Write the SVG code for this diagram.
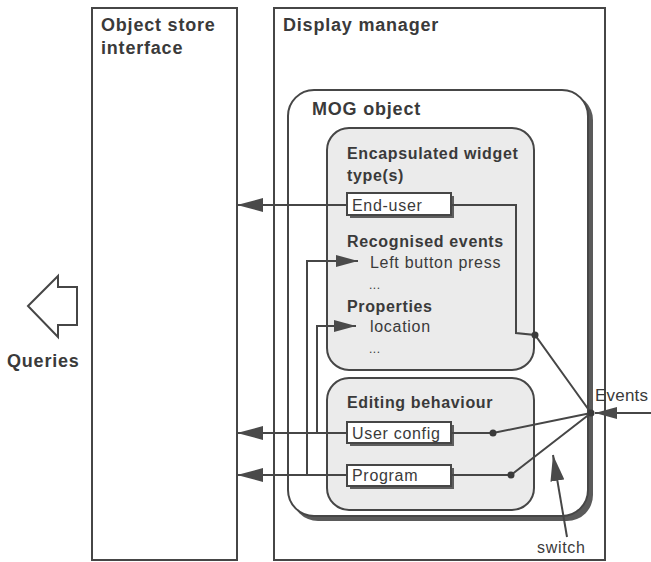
<svg xmlns="http://www.w3.org/2000/svg" width="651" height="562" viewBox="0 0 651 562">
  <style>
    .frame { fill: #ffffff; stroke: #464646; stroke-width: 2; }
    .panel { fill: #ebebeb; stroke: #464646; stroke-width: 2; }
    .tag { fill: #ffffff; stroke: #464646; stroke-width: 2; }
    .tagshadow { fill: #5e5e5e; }
    .wire { fill: none; stroke: #464646; stroke-width: 2; }
    .dot { fill: #3a3a3a; }
    .head { fill: #4a4a4a; }
    .h1 { font-family: "Liberation Sans", Arial, sans-serif; font-weight: bold; font-size: 18px; letter-spacing: 0.8px; fill: #3a3a3a; }
    .h2 { font-family: "Liberation Sans", Arial, sans-serif; font-weight: bold; font-size: 16px; letter-spacing: 0.65px; fill: #3a3a3a; }
    .t { font-family: "Liberation Sans", Arial, sans-serif; font-size: 16px; letter-spacing: 0.7px; fill: #3a3a3a; }
    .ellipsis { font-family: "Liberation Sans", Arial, sans-serif; font-size: 12px; letter-spacing: 0.5px; fill: #3a3a3a; }
    .big { font-size: 17px; letter-spacing: 0.2px; }
  </style>
  <defs>
    <marker id="arrow" viewBox="0 0 26 14" refX="26" refY="7" markerWidth="26" markerHeight="14" markerUnits="userSpaceOnUse" orient="auto">
      <path d="M0,0 L26,7 L0,14 Z" class="head"/>
    </marker>
    <marker id="arrowSmall" viewBox="0 0 22 12" refX="22" refY="6" markerWidth="22" markerHeight="12" markerUnits="userSpaceOnUse" orient="auto">
      <path d="M0,0 L22,6 L0,12 Z" class="head"/>
    </marker>
  </defs>

  <rect width="651" height="562" fill="#ffffff"/>

  <!-- Object store interface -->
  <g id="object-store">
    <rect class="frame" x="92" y="8" width="145" height="552"/>
    <text class="h1" x="101" y="31">Object store</text>
    <text class="h1" x="101" y="54">interface</text>
  </g>

  <!-- Display manager -->
  <g id="display-manager">
    <rect class="frame" x="274" y="8" width="331" height="552"/>
    <text class="h1" x="283" y="31">Display manager</text>
  </g>

  <!-- MOG object with drop shadow -->
  <g id="mog-object">
    <rect x="292" y="94" width="301" height="427" rx="26" fill="#5a5a5a"/>
    <rect class="frame" x="288" y="90" width="300" height="426" rx="26"/>
    <text class="h1" x="312" y="115">MOG object</text>
  </g>

  <!-- Encapsulated widget types -->
  <g id="widget-types">
    <rect class="panel" x="327" y="128" width="207" height="242" rx="22"/>
    <text class="h2" x="347" y="159">Encapsulated widget</text>
    <text class="h2" x="347" y="181">type(s)</text>
    <text class="h2" x="347" y="247">Recognised events</text>
    <text class="t" x="370" y="268">Left button press</text>
    <text class="ellipsis" x="369" y="289">...</text>
    <text class="h2" x="347" y="312">Properties</text>
    <text class="t" x="370" y="332">location</text>
    <text class="ellipsis" x="369" y="353">...</text>
  </g>

  <g id="end-user">
    <rect class="tagshadow" x="350" y="196" width="104" height="22"/>
    <rect class="tag" x="347" y="193" width="104" height="22"/>
    <text class="t" x="352" y="211">End-user</text>
  </g>

  <!-- Editing behaviour -->
  <g id="editing-behaviour">
    <rect class="panel" x="327" y="378" width="207" height="132" rx="22"/>
    <text class="h2" x="347" y="408">Editing behaviour</text>
  </g>

  <g id="user-config">
    <rect class="tagshadow" x="350" y="425" width="104" height="21"/>
    <rect class="tag" x="347" y="422" width="104" height="21"/>
    <text class="t" x="352" y="439">User config</text>
  </g>

  <g id="program">
    <rect class="tagshadow" x="350" y="468" width="104" height="21"/>
    <rect class="tag" x="347" y="465" width="104" height="21"/>
    <text class="t" x="352" y="481">Program</text>
  </g>

  <!-- Queries -->
  <g id="queries">
    <polygon points="28,306 58,276 58,287 77,287 77,325 58,325 58,337" fill="#ffffff" stroke="#464646" stroke-width="2" stroke-linejoin="miter"/>
    <text class="h1" x="7" y="367">Queries</text>
  </g>

  <!-- Connectors -->
  <g id="connectors">
    <!-- to the object store -->
    <line class="wire" x1="347" y1="205" x2="237" y2="205" marker-end="url(#arrow)"/>
    <line class="wire" x1="347" y1="433" x2="237" y2="433" marker-end="url(#arrow)"/>
    <line class="wire" x1="347" y1="475" x2="237" y2="475" marker-end="url(#arrow)"/>
    <!-- branches into recognised events and properties -->
    <polyline class="wire" points="307,475 307,261 358,261" marker-end="url(#arrowSmall)"/>
    <polyline class="wire" points="317,433 317,326 356,326" marker-end="url(#arrowSmall)"/>
    <!-- switch wiring -->
    <polyline class="wire" points="451,205 516,205 516,333 535,335 591,413"/>
    <polyline class="wire" points="451,433 493,433 591,413"/>
    <polyline class="wire" points="451,475 511,475 591,413"/>
    <circle class="dot" cx="535" cy="335" r="3.5"/>
    <circle class="dot" cx="493" cy="433" r="3.5"/>
    <circle class="dot" cx="511" cy="475" r="3.5"/>
    <circle class="dot" cx="591" cy="413" r="3.5"/>
    <!-- incoming events -->
    <line class="wire" x1="651" y1="413" x2="595" y2="413" marker-end="url(#arrowSmall)"/>
    <!-- switch pointer -->
    <line class="wire" x1="567" y1="537" x2="553" y2="455" marker-end="url(#arrow)"/>
  </g>

  <text class="t big" x="595" y="401">Events</text>
  <text class="t" x="537" y="553">switch</text>
</svg>
